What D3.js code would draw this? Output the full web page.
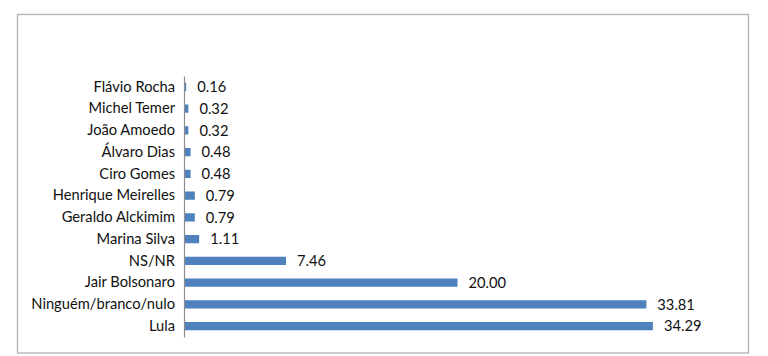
<!DOCTYPE html>
<html>
<head>
<meta charset="utf-8">
<script src="https://cdn.jsdelivr.net/npm/d3@7"></script>
<style>
  html, body { margin: 0; padding: 0; background: #fff; }
  svg { display: block; }
  text { font-family: Lato, "Open Sans", sans-serif; fill: #111; }
</style>
</head>
<body>
<svg id="chart" width="768" height="356"></svg>
<script>
const categories = ["Flávio Rocha", "Michel Temer", "João Amoedo", "Álvaro Dias", "Ciro Gomes",
  "Henrique Meirelles", "Geraldo Alckimim", "Marina Silva", "NS/NR", "Jair Bolsonaro",
  "Ninguém/branco/nulo", "Lula"];
const values = [0.16, 0.32, 0.32, 0.48, 0.48, 0.79, 0.79, 1.11, 7.46, 20.00, 33.81, 34.29];
const valueLabels = ["0.16", "0.32", "0.32", "0.48", "0.48", "0.79", "0.79", "1.11", "7.46", "20.00", "33.81", "34.29"];

const svg = d3.select("#chart");

// outer border
svg.append("rect")
  .attr("x", 17.5).attr("y", 14.5)
  .attr("width", 731).attr("height", 338.5)
  .attr("fill", "#fff").attr("stroke", "#b3b3b3").attr("stroke-width", 1.3);

const x = d3.scaleLinear().domain([0, 40]).range([184, 731]);
const y = d3.scaleBand().domain(categories).range([76, 337]).paddingInner(0.62).paddingOuter(0.31);

const data = categories.map((c, i) => ({ c, v: values[i], l: valueLabels[i] }));

svg.append("g").selectAll("rect").data(data).join("rect")
  .attr("x", x(0))
  .attr("y", d => y(d.c))
  .attr("width", d => x(d.v) - x(0))
  .attr("height", y.bandwidth())
  .attr("fill", "#4f81bd");

// category axis
const yAxis = d3.axisLeft(y).tickSize(0).tickPadding(9);
const gy = svg.append("g").attr("transform", `translate(${x(0)},0)`).call(yAxis);
gy.select(".domain").attr("stroke", "#8c8c8c").attr("stroke-width", 1.2);
gy.selectAll("text").style("font-family", "Lato, 'Open Sans', sans-serif")
  .style("font-size", "14.7px").attr("fill", "#111");

// value labels
svg.append("g").selectAll("text").data(data).join("text")
  .attr("x", d => x(d.v) + 11)
  .attr("y", d => y(d.c) + y.bandwidth() / 2)
  .attr("dy", "0.36em")
  .style("font-size", "14.7px")
  .text(d => d.l);
</script>
</body>
</html>
